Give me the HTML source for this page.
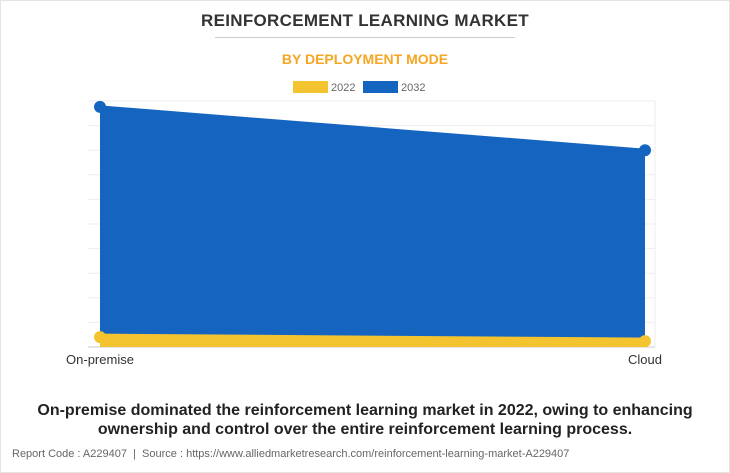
<!DOCTYPE html>
<html><head><meta charset="utf-8"><style>
body{margin:0;width:730px;height:473px;background:#fff;font-family:"Liberation Sans",Arial,sans-serif;position:relative;overflow:hidden}
.frame{position:absolute;left:0;top:0;width:728px;height:471px;border:1px solid #e4e4e4}
.t{position:absolute;left:0;width:730px;text-align:center}
</style></head><body>
<div class="frame"></div>
<div class="t" style="top:11px;font-size:17px;font-weight:bold;color:#333;letter-spacing:0.3px">REINFORCEMENT LEARNING MARKET</div>
<div style="position:absolute;left:215px;top:37px;width:300px;height:1px;background:#ccc"></div>
<div class="t" style="top:51px;font-size:14px;font-weight:bold;color:#f5a623">BY DEPLOYMENT MODE</div>
<svg id="c" width="730" height="473" style="position:absolute;left:0;top:0"></svg>
<div class="t" style="top:401px;font-size:16px;font-weight:bold;color:#222;line-height:19px">On-premise dominated the reinforcement learning market in 2022, owing to enhancing<br>ownership and control over the entire reinforcement learning process.</div>
<div style="position:absolute;left:12px;top:448px;font-size:11px;color:#666">Report Code : A229407 &nbsp;|&nbsp; Source : https://www.alliedmarketresearch.com/reinforcement-learning-market-A229407</div>
<script>
const categories=["On-premise","Cloud"];
const values2022=[0.4,0.24];
const values2032=[9.76,8.0];
const yMax=10;
const ns="http://www.w3.org/2000/svg";
const svg=document.getElementById('c');
const x0=100,x1=645,yT=101,yB=347;
const xs=i=>x0+i*(x1-x0)/(categories.length-1);
const ys=v=>yB-v/yMax*(yB-yT);
function mk(t,a){const e=document.createElementNS(ns,t);for(const k in a)e.setAttribute(k,a[k]);svg.appendChild(e);return e;}
for(let i=0;i<=10;i++){const y=ys(i);
const g=mk('line',{x1:88,x2:655,y1:y,y2:y,stroke:i==0?'#ccc':'#eee','stroke-width':1});

}
const vb=mk('line',{x1:655,x2:655,y1:yT,y2:yB,stroke:'#eee','stroke-width':1});


function series(vals,color,name,w){
let d=`M${xs(0)},${yB}`;vals.forEach((v,i)=>d+=` L${xs(i)},${ys(v)}`);d+=` L${xs(vals.length-1)},${yB}Z`;
const a=mk('path',{d:d,fill:color});


const l=mk('polyline',{points:vals.map((v,i)=>xs(i)+','+ys(v)).join(' '),fill:'none',stroke:color,'stroke-width':w});


vals.forEach((v,i)=>{const c=mk('circle',{cx:xs(i),cy:ys(v),r:6,fill:color});

});
}
series(values2032,'#1565c0','series-2032',3);
series(values2022,'#f4c430','series-2022',7);
categories.forEach((c,i)=>{const t=mk('text',{x:xs(i),y:364,'text-anchor':'middle','font-size':13,fill:'#333'});t.textContent=c;

});
const leg=[["2022","#f4c430",293],["2032","#1565c0",363]];
leg.forEach(l=>{const r=mk('rect',{x:l[2],y:81,width:35,height:12,fill:l[1]});


const t=mk('text',{x:l[2]+38,y:91,'font-size':11,fill:'#666'});t.textContent=l[0];

});
</script>
</body></html>
